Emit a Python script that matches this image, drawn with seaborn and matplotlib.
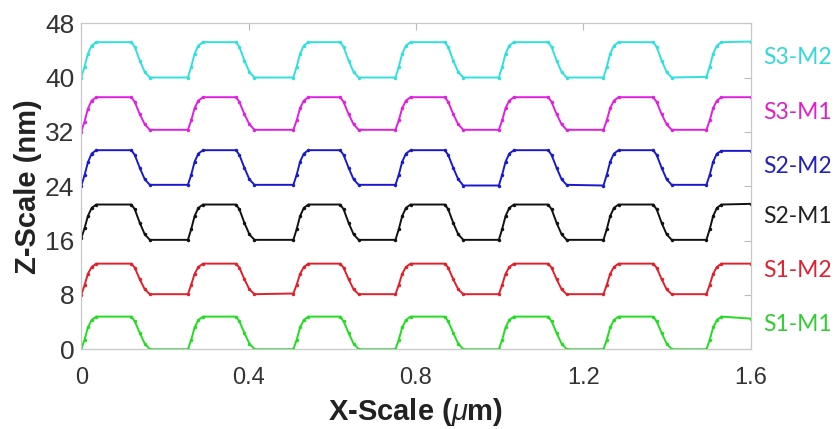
import matplotlib
matplotlib.use('Agg')
import matplotlib.pyplot as plt
import matplotlib.transforms as mtransforms
import pandas as pd
import seaborn as sns

# Abscisses des profils (um) (communes aux 6 courbes)
x_um = [0.000, 0.008, 0.016, 0.025, 0.036, 0.120, 0.128, 0.140, 0.152, 0.164,
        0.255, 0.263, 0.271, 0.280, 0.291, 0.370, 0.378, 0.390, 0.402, 0.414,
        0.507, 0.515, 0.523, 0.532, 0.543, 0.619, 0.627, 0.639, 0.651, 0.663,
        0.751, 0.759, 0.767, 0.776, 0.787, 0.869, 0.877, 0.889, 0.901, 0.913,
        0.998, 1.006, 1.014, 1.023, 1.034, 1.116, 1.124, 1.136, 1.148, 1.160,
        1.248, 1.256, 1.264, 1.273, 1.284, 1.367, 1.375, 1.387, 1.399, 1.411,
        1.494, 1.502, 1.510, 1.519, 1.530, 1.600]

s3_m2 = [40.0, 41.6, 43.5, 44.7, 45.2, 45.2, 44.5, 42.5, 40.8, 40.0,
         40.0, 41.6, 43.5, 44.7, 45.2, 45.2, 44.5, 42.5, 40.8, 40.0,
         40.0, 41.6, 43.5, 44.7, 45.2, 45.2, 44.5, 42.5, 40.8, 40.0,
         40.0, 41.6, 43.5, 44.7, 45.2, 45.2, 44.5, 42.5, 40.8, 40.0,
         40.0, 41.6, 43.5, 44.7, 45.2, 45.2, 44.5, 42.5, 40.8, 40.0,
         40.0, 41.6, 43.5, 44.7, 45.2, 45.2, 44.5, 42.5, 40.8, 40.0,
         40.1, 41.6, 43.5, 44.7, 45.2, 45.3]

s3_m1 = [32.0, 33.5, 35.4, 36.6, 37.1, 37.1, 36.4, 34.6, 33.1, 32.3,
         32.3, 33.7, 35.5, 36.6, 37.1, 37.1, 36.4, 34.6, 33.1, 32.3,
         32.3, 33.7, 35.5, 36.6, 37.1, 37.1, 36.4, 34.6, 33.1, 32.3,
         32.3, 33.7, 35.5, 36.6, 37.1, 37.1, 36.4, 34.6, 33.1, 32.3,
         32.3, 33.7, 35.5, 36.6, 37.1, 37.1, 36.4, 34.6, 33.1, 32.3,
         32.3, 33.7, 35.5, 36.6, 37.1, 37.1, 36.4, 34.6, 33.1, 32.3,
         32.3, 33.7, 35.5, 36.6, 37.1, 37.1]

s2_m2 = [24.0, 25.6, 27.5, 28.8, 29.3, 29.3, 28.6, 26.7, 25.0, 24.2,
         24.2, 25.7, 27.6, 28.8, 29.3, 29.3, 28.6, 26.7, 25.0, 24.2,
         24.2, 25.7, 27.6, 28.8, 29.3, 29.3, 28.6, 26.7, 25.0, 24.2,
         24.2, 25.7, 27.6, 28.8, 29.3, 29.3, 28.6, 26.7, 25.0, 24.1,
         24.1, 25.7, 27.6, 28.8, 29.3, 29.3, 28.6, 26.7, 25.0, 24.2,
         24.1, 25.7, 27.6, 28.8, 29.3, 29.3, 28.6, 26.7, 25.0, 24.2,
         24.2, 25.7, 27.6, 28.8, 29.2, 29.2]

s2_m1 = [16.3, 17.8, 19.6, 20.8, 21.3, 21.3, 20.6, 18.6, 16.9, 16.1,
         16.1, 17.7, 19.6, 20.8, 21.3, 21.3, 20.6, 18.6, 16.9, 16.1,
         16.1, 17.7, 19.6, 20.8, 21.3, 21.3, 20.6, 18.6, 16.9, 16.1,
         16.1, 17.7, 19.6, 20.8, 21.3, 21.3, 20.6, 18.6, 16.9, 16.1,
         16.1, 17.7, 19.6, 20.8, 21.3, 21.3, 20.6, 18.6, 16.9, 16.1,
         16.1, 17.7, 19.6, 20.8, 21.3, 21.3, 20.6, 18.6, 16.9, 16.1,
         16.1, 17.7, 19.6, 20.8, 21.3, 21.4]

s1_m2 = [8.0, 9.4, 11.1, 12.1, 12.6, 12.6, 12.0, 10.3, 8.8, 8.1,
         8.1, 9.5, 11.1, 12.1, 12.6, 12.6, 12.0, 10.3, 8.8, 8.1,
         8.2, 9.5, 11.1, 12.1, 12.6, 12.6, 12.0, 10.3, 8.8, 8.1,
         8.1, 9.5, 11.1, 12.1, 12.6, 12.6, 12.0, 10.3, 8.8, 8.1,
         8.1, 9.5, 11.1, 12.1, 12.6, 12.6, 12.0, 10.3, 8.8, 8.1,
         8.1, 9.5, 11.1, 12.1, 12.6, 12.6, 12.0, 10.3, 8.8, 8.1,
         8.1, 9.5, 11.1, 12.1, 12.6, 12.6]

s1_m1 = [0.0, 1.4, 3.2, 4.3, 4.8, 4.8, 4.1, 2.4, 0.8, 0.0,
         0.0, 1.4, 3.2, 4.3, 4.8, 4.8, 4.1, 2.4, 0.8, 0.0,
         0.0, 1.4, 3.2, 4.3, 4.8, 4.8, 4.1, 2.4, 0.8, 0.0,
         0.0, 1.4, 3.2, 4.3, 4.8, 4.8, 4.1, 2.4, 0.8, 0.0,
         0.0, 1.4, 3.2, 4.3, 4.8, 4.8, 4.1, 2.4, 0.8, 0.0,
         0.0, 1.4, 3.2, 4.3, 4.8, 4.8, 4.1, 2.4, 0.8, 0.0,
         0.0, 1.4, 3.2, 4.3, 4.8, 4.5]

noms = ['S1-M1', 'S1-M2', 'S2-M1', 'S2-M2', 'S3-M1', 'S3-M2']
profils = [s1_m1, s1_m2, s2_m1, s2_m2, s3_m1, s3_m2]
couleurs = ['#22dd22', '#e0202a', '#111111', '#1a1acc', '#e020e0', '#30e0e0']
couleurs_txt = ['#33cc33', '#dd2233', '#222222', '#2222bb', '#dd22cc', '#33d8d8']
y_etiquettes = [3.7, 11.6, 19.6, 26.9, 34.8, 43.0]

df = pd.concat([pd.DataFrame({'x': x_um, 'z': z, 'serie': n})
                for n, z in zip(noms, profils)], ignore_index=True)

sns.set_style('white')
plt.rcParams['font.family'] = ['Liberation Sans', 'DejaVu Sans']
plt.rcParams['mathtext.fontset'] = 'custom'
plt.rcParams['mathtext.it'] = 'Liberation Sans:italic'

fig = plt.figure(figsize=(8.37, 4.29), dpi=100)
ax = fig.add_axes([0.097, 0.186, 0.800, 0.760])

sns.lineplot(data=df, x='x', y='z', hue='serie', palette=dict(zip(noms, couleurs)),
             hue_order=noms, linewidth=1.4, marker='o', markersize=2.5,
             markeredgewidth=0, legend=False, ax=ax, sort=False, estimator=None)

ax.set_xlim(0, 1.6)
ax.set_ylim(0, 48)
ax.set_xticks([0, 0.4, 0.8, 1.2, 1.6])
ax.set_xticklabels(['0', '0.4', '0.8', '1.2', '1.6'])
ax.set_yticks([0, 8, 16, 24, 32, 40, 48])
ax.tick_params(direction='in', length=5, width=0.8, color='#bbbbbb',
               labelcolor='#333333', top=True, right=True)
ax.tick_params(axis='x', labelsize=17, pad=13)
ax.tick_params(axis='y', labelsize=19, pad=5)
for sp in ax.spines.values():
    sp.set_color('#c8c8c8')
    sp.set_linewidth(0.9)

ax.set_xlabel(r'X-Scale ($\mu$m)', fontsize=21, fontweight='bold', color='#222222', labelpad=5)
ax.set_ylabel('Z-Scale (nm)', fontsize=21, fontweight='bold', color='#222222', labelpad=2)

trans = mtransforms.blended_transform_factory(ax.transAxes, ax.transData)
for nom, c, yy in zip(noms, couleurs_txt, y_etiquettes):
    ax.text(1.018, yy, nom, transform=trans, color=c, fontsize=16.5,
            family=['Lato', 'DejaVu Sans'], ha='left', va='center')

fig.savefig('out.png', dpi=100)
